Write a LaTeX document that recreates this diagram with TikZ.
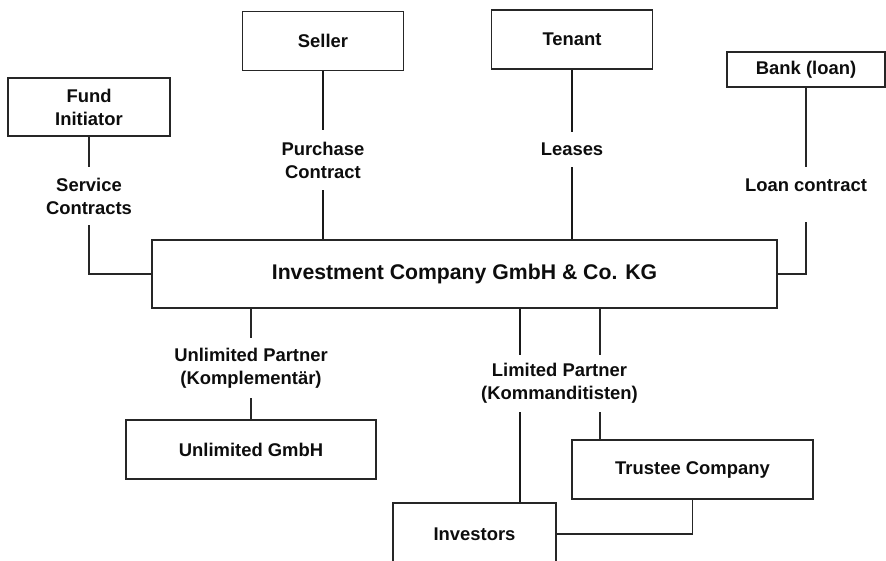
\documentclass[tikz,border=0pt]{standalone}
\usepackage{fontspec}
\setmainfont{Liberation Sans}
\usepackage{tikz}
\usetikzlibrary{positioning,calc}
\newcommand{\lblfont}{\fontsize{13.1}{16.3}\selectfont\bfseries}
\newcommand{\kgfont}{\fontsize{15.1}{18}\selectfont\bfseries}
\tikzset{
  box/.style={draw=black!85,line width=0.9pt,align=center,font=\lblfont,text=black!95,inner sep=2pt},
  lbl/.style={align=center,font=\lblfont,text=black!95,inner sep=0pt},
  link/.style={black!85,line width=0.8pt},
  heavy/.style={black!90,line width=1.4pt},
}

\begin{document}
\begin{tikzpicture}[x=1cm,y=1cm]
\useasboundingbox (0,0) rectangle (22.15,14);
% the fund company in the middle
\node[box,line width=1pt,font=\kgfont,minimum width=15.625cm,minimum height=1.7cm] (main) at (11.6125,7.15) {Investment Company GmbH \& Co. KG};
% contract parties above
\node[box,minimum width=4.05cm,minimum height=1.45cm] (fund) at (2.225,11.325) {Fund\\Initiator};
\node[box,minimum width=4.03cm,minimum height=1.48cm] (seller) at (8.075,12.975) {Seller};
\node[box,minimum width=4.03cm,minimum height=1.48cm] (tenant) at (14.3,13.0125) {Tenant};
\node[box,minimum width=3.95cm,minimum height=0.875cm] (bank) at (20.15,12.2625) {Bank (loan)};
% partners below
\node[box,minimum width=6.25cm,minimum height=1.475cm] (unlimited) at (6.275,2.7625) {Unlimited GmbH};
\node[box,minimum width=6.025cm,minimum height=1.475cm] (trustee) at (17.3125,2.2625) {Trustee Company};
\node[box,minimum width=4.075cm,minimum height=1.55cm] (investors) at (11.8625,0.65) {Investors};
% labels sitting in the gaps of the lines
\node[lbl,minimum height=1.45cm] (service) at (2.225,9.1) {Service\\Contracts};
\node[lbl,minimum height=1.5cm] (purchase) at (8.075,10.0) {Purchase\\Contract};
\node[lbl,minimum height=0.875cm] (leases) at (14.3,10.2625) {Leases};
\node[lbl,anchor=base,text height=0.6125cm,text depth=0.7625cm] (loan) at (20.15,9.2125) {Loan contract};
\node[lbl,minimum height=1.5cm] (uplabel) at (6.275,4.8) {Unlimited Partner\\(Komplement\"ar)};
\node[lbl,minimum height=1.425cm] (limited) at (13.9875,4.4125) {Limited Partner\\(Kommanditisten)};
% upper connections
\draw[link] (fund.south) -- (service.north);
\draw[link] (service.south) |- (main.west);
\draw[heavy] (seller.south) -- (purchase.north);
\draw[heavy] (purchase.south) -- (main.north -| purchase);
\draw[heavy] (tenant.south) -- (leases.north);
\draw[heavy] (leases.south) -- (main.north -| leases);
\draw[link] (bank.south) -- (loan.north);
\draw[link] (loan.south) |- (main.east);
% lower connections
\draw[link] (main.south -| uplabel) -- (uplabel.north);
\draw[link] (uplabel.south) -- (unlimited.north);
\coordinate (kg) at (13,0);
\coordinate (kt) at (15,0);
\draw[heavy,line width=1.7pt] (main.south -| kg) -- (limited.north -| kg);
\draw[heavy,line width=1.7pt] (limited.south -| kg) -- (investors.north -| kg);
\draw[link] (main.south -| kt) -- (limited.north -| kt);
\draw[link] (limited.south -| kt) -- (trustee.north -| kt);
\draw[link] (trustee.south) |- (investors.east);
\end{tikzpicture}
\end{document}
